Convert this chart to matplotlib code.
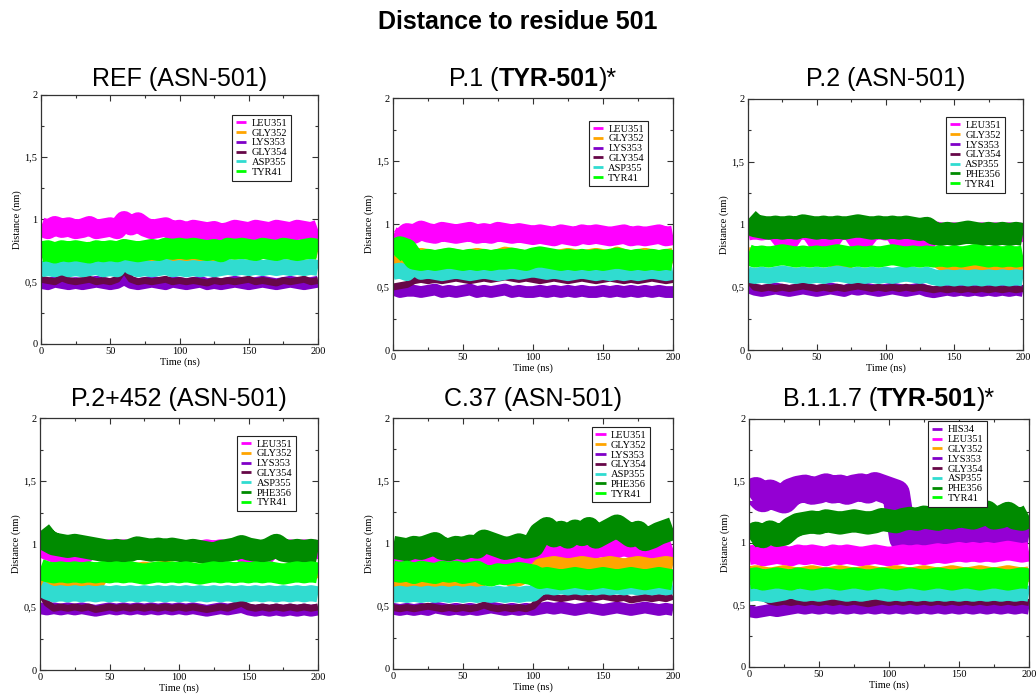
import matplotlib
matplotlib.use("Agg")
import matplotlib.pyplot as plt
from matplotlib.ticker import MultipleLocator

plt.rcParams["font.family"] = ["Liberation Serif", "DejaVu Serif"]

# sampling of the traces (ns)
time_ns = list(range(0, 201, 5))

x_ticks = [0, 50, 100, 150, 200]
x_tick_labels = ["0", "50", "100", "150", "200"]
y_ticks = [0, 0.5, 1, 1.5, 2]
y_tick_labels = ["0", "0,5", "1", "1,5", "2"]

# ---- REF (ASN-501)
ref_leu351 = [0.94, 0.92, 0.95, 0.93, 0.94, 0.92, 0.93, 0.95, 0.92, 0.93,
              0.94, 0.92, 0.99, 0.95, 0.98, 0.94, 0.92, 0.93, 0.94, 0.91,
              0.92, 0.90, 0.92, 0.91, 0.90, 0.91, 0.89, 0.90, 0.92, 0.91,
              0.90, 0.92, 0.91, 0.90, 0.92, 0.91, 0.90, 0.92, 0.91, 0.90,
              0.92]
ref_gly352 = [0.76, 0.75, 0.76, 0.75, 0.76, 0.74, 0.75, 0.76, 0.75, 0.74,
              0.75, 0.76, 0.78, 0.76, 0.75, 0.74, 0.70, 0.71, 0.69, 0.70,
              0.68, 0.69, 0.68, 0.70, 0.69, 0.68, 0.70, 0.74, 0.75, 0.76,
              0.75, 0.76, 0.75, 0.76, 0.75, 0.76, 0.75, 0.76, 0.75, 0.76,
              0.75]
ref_lys353 = [0.49, 0.48, 0.50, 0.49, 0.48, 0.49, 0.48, 0.49, 0.50, 0.49,
              0.48, 0.49, 0.52, 0.49, 0.48, 0.49, 0.50, 0.49, 0.48, 0.50,
              0.49, 0.48, 0.49, 0.50, 0.48, 0.49, 0.48, 0.49, 0.50, 0.49,
              0.48, 0.49, 0.50, 0.49, 0.48, 0.49, 0.50, 0.49, 0.48, 0.49,
              0.50]
ref_gly354 = [0.52, 0.51, 0.50, 0.53, 0.51, 0.50, 0.51, 0.52, 0.50, 0.51,
              0.50, 0.52, 0.60, 0.52, 0.50, 0.51, 0.50, 0.51, 0.52, 0.50,
              0.51, 0.50, 0.51, 0.50, 0.49, 0.51, 0.50, 0.51, 0.50, 0.51,
              0.52, 0.50, 0.51, 0.50, 0.49, 0.51, 0.50, 0.51, 0.52, 0.50,
              0.51]
ref_asp355 = [0.60, 0.61, 0.60, 0.62, 0.60, 0.61, 0.60, 0.61, 0.62, 0.60,
              0.61, 0.60, 0.68, 0.62, 0.60, 0.61, 0.60, 0.61, 0.62, 0.60,
              0.61, 0.60, 0.61, 0.60, 0.61, 0.60, 0.61, 0.62, 0.61, 0.62,
              0.61, 0.62, 0.61, 0.62, 0.61, 0.62, 0.61, 0.62, 0.61, 0.62,
              0.61]
ref_tyr41 = [0.74, 0.75, 0.73, 0.75, 0.74, 0.75, 0.74, 0.73, 0.75, 0.74,
             0.75, 0.74, 0.76, 0.75, 0.74, 0.75, 0.76, 0.75, 0.77, 0.76,
             0.77, 0.76, 0.77, 0.76, 0.75, 0.76, 0.74, 0.77, 0.76, 0.77,
             0.76, 0.75, 0.77, 0.76, 0.75, 0.77, 0.76, 0.75, 0.76, 0.77,
             0.76]

# ---- P.1 (TYR-501)
p1_leu351 = [0.90, 0.88, 0.93, 0.92, 0.95, 0.93, 0.92, 0.94, 0.93, 0.92,
             0.93, 0.94, 0.92, 0.93, 0.92, 0.94, 0.93, 0.92, 0.93, 0.92,
             0.91, 0.92, 0.91, 0.90, 0.92, 0.91, 0.90, 0.92, 0.91, 0.92,
             0.91, 0.90, 0.91, 0.92, 0.90, 0.91, 0.90, 0.91, 0.92, 0.90,
             0.91]
p1_gly352 = [0.72, 0.70, 0.71, 0.74, 0.75, 0.74, 0.73, 0.74, 0.75, 0.74,
             0.73, 0.74, 0.75, 0.74, 0.73, 0.74, 0.76, 0.75, 0.74, 0.73,
             0.74, 0.75, 0.74, 0.73, 0.74, 0.75, 0.74, 0.73, 0.74, 0.75,
             0.74, 0.73, 0.76, 0.74, 0.73, 0.74, 0.75, 0.74, 0.73, 0.74,
             0.75]
p1_lys353 = [0.48, 0.46, 0.47, 0.47, 0.46, 0.47, 0.48, 0.46, 0.47, 0.46,
             0.47, 0.48, 0.46, 0.47, 0.46, 0.47, 0.48, 0.46, 0.47, 0.46,
             0.46, 0.47, 0.46, 0.47, 0.46, 0.47, 0.46, 0.47, 0.46, 0.46,
             0.47, 0.46, 0.47, 0.46, 0.47, 0.46, 0.47, 0.46, 0.47, 0.46,
             0.46]
p1_gly354 = [0.50, 0.51, 0.52, 0.55, 0.56, 0.55, 0.56, 0.55, 0.56, 0.57,
             0.56, 0.55, 0.56, 0.57, 0.56, 0.57, 0.58, 0.57, 0.56, 0.57,
             0.56, 0.55, 0.56, 0.57, 0.56, 0.55, 0.56, 0.57, 0.56, 0.55,
             0.56, 0.57, 0.56, 0.55, 0.56, 0.55, 0.56, 0.57, 0.56, 0.55,
             0.56]
p1_asp355 = [0.62, 0.63, 0.61, 0.66, 0.62, 0.63, 0.62, 0.61, 0.62, 0.63,
             0.62, 0.61, 0.62, 0.63, 0.62, 0.61, 0.62, 0.63, 0.62, 0.63,
             0.64, 0.63, 0.62, 0.63, 0.62, 0.61, 0.62, 0.63, 0.62, 0.61,
             0.62, 0.61, 0.62, 0.61, 0.62, 0.61, 0.62, 0.63, 0.62, 0.61,
             0.62]
p1_tyr41 = [0.76, 0.82, 0.80, 0.72, 0.71, 0.72, 0.71, 0.72, 0.73, 0.72,
            0.71, 0.72, 0.71, 0.72, 0.71, 0.72, 0.72, 0.73, 0.72, 0.71,
            0.73, 0.74, 0.73, 0.72, 0.71, 0.72, 0.71, 0.72, 0.71, 0.72,
            0.71, 0.72, 0.73, 0.72, 0.71, 0.72, 0.71, 0.72, 0.71, 0.72,
            0.71]

# ---- P.2 (ASN-501)
p2_leu351 = [0.95, 0.96, 0.95, 0.96, 0.95, 0.88, 0.87, 0.95, 0.96, 0.95,
             0.87, 0.88, 0.87, 0.95, 0.96, 0.95, 0.87, 0.88, 0.95, 0.96,
             0.95, 0.96, 0.87, 0.88, 0.87, 0.88, 0.87, 0.95, 0.94, 0.93,
             0.94, 0.93, 0.94, 0.93, 0.94, 0.93, 0.94, 0.93, 0.94, 0.93,
             0.94]
p2_gly352 = [0.76, 0.75, 0.76, 0.75, 0.76, 0.75, 0.76, 0.75, 0.76, 0.75,
             0.76, 0.75, 0.76, 0.68, 0.67, 0.75, 0.76, 0.75, 0.76, 0.75,
             0.76, 0.75, 0.76, 0.75, 0.76, 0.75, 0.76, 0.74, 0.70, 0.67,
             0.66, 0.67, 0.66, 0.67, 0.66, 0.67, 0.66, 0.67, 0.66, 0.67,
             0.66]
p2_lys353 = [0.50, 0.48, 0.47, 0.48, 0.49, 0.48, 0.47, 0.48, 0.49, 0.48,
             0.47, 0.48, 0.49, 0.48, 0.47, 0.49, 0.48, 0.49, 0.48, 0.47,
             0.48, 0.49, 0.48, 0.47, 0.48, 0.49, 0.47, 0.46, 0.47, 0.48,
             0.47, 0.48, 0.47, 0.48, 0.47, 0.48, 0.47, 0.48, 0.47, 0.48,
             0.47]
p2_gly354 = [0.56, 0.50, 0.49, 0.50, 0.49, 0.50, 0.49, 0.50, 0.51, 0.50,
             0.49, 0.50, 0.49, 0.50, 0.49, 0.50, 0.51, 0.50, 0.49, 0.50,
             0.49, 0.50, 0.49, 0.50, 0.49, 0.50, 0.49, 0.48, 0.49, 0.48,
             0.49, 0.48, 0.49, 0.48, 0.49, 0.48, 0.49, 0.48, 0.49, 0.48,
             0.49]
p2_asp355 = [0.60, 0.59, 0.60, 0.59, 0.60, 0.61, 0.60, 0.59, 0.60, 0.59,
             0.60, 0.59, 0.60, 0.61, 0.60, 0.59, 0.60, 0.59, 0.60, 0.59,
             0.60, 0.59, 0.60, 0.61, 0.60, 0.59, 0.60, 0.58, 0.57, 0.58,
             0.57, 0.58, 0.57, 0.58, 0.57, 0.58, 0.57, 0.58, 0.57, 0.58,
             0.57]
p2_phe356 = [1.04, 0.99, 0.98, 0.97, 0.98, 0.97, 0.98, 0.97, 0.99, 0.98,
             0.97, 0.98, 0.97, 0.98, 0.97, 0.98, 0.99, 0.98, 0.97, 0.98,
             0.97, 0.98, 0.97, 0.98, 0.97, 0.96, 0.97, 0.93, 0.92, 0.93,
             0.92, 0.93, 0.94, 0.93, 0.92, 0.93, 0.92, 0.93, 0.92, 0.93,
             0.92]
p2_tyr41 = [0.76, 0.74, 0.75, 0.74, 0.75, 0.76, 0.75, 0.74, 0.75, 0.74,
            0.75, 0.74, 0.75, 0.76, 0.75, 0.74, 0.75, 0.74, 0.75, 0.74,
            0.75, 0.76, 0.75, 0.74, 0.75, 0.74, 0.75, 0.74, 0.75, 0.74,
            0.75, 0.74, 0.75, 0.76, 0.75, 0.74, 0.75, 0.74, 0.75, 0.74,
            0.75]

# ---- P.2+452 (ASN-501)
p452_leu351 = [1.00, 0.95, 0.93, 0.92, 0.91, 0.91, 0.90, 0.95, 0.96, 0.95,
               0.96, 0.95, 0.96, 0.95, 0.96, 0.95, 0.96, 0.95, 0.96, 0.95,
               0.96, 0.95, 0.96, 0.95, 0.96, 0.95, 0.96, 0.95, 0.96, 0.95,
               0.88, 0.87, 0.88, 0.95, 0.96, 0.95, 0.96, 0.95, 0.96, 0.95,
               0.96]
p452_gly352 = [0.70, 0.69, 0.70, 0.69, 0.70, 0.69, 0.68, 0.67, 0.68, 0.76,
               0.77, 0.78, 0.79, 0.80, 0.79, 0.80, 0.79, 0.80, 0.81, 0.80,
               0.79, 0.80, 0.79, 0.78, 0.79, 0.80, 0.79, 0.78, 0.79, 0.78,
               0.79, 0.80, 0.79, 0.78, 0.79, 0.78, 0.79, 0.80, 0.79, 0.78,
               0.79]
p452_lys353 = [0.49, 0.48, 0.49, 0.48, 0.49, 0.48, 0.49, 0.48, 0.47, 0.48,
               0.49, 0.48, 0.49, 0.48, 0.49, 0.48, 0.49, 0.48, 0.49, 0.48,
               0.49, 0.48, 0.49, 0.48, 0.47, 0.48, 0.49, 0.48, 0.49, 0.50,
               0.48, 0.47, 0.48, 0.47, 0.48, 0.47, 0.48, 0.47, 0.48, 0.47,
               0.48]
p452_gly354 = [0.62, 0.53, 0.49, 0.50, 0.49, 0.50, 0.49, 0.50, 0.48, 0.49,
               0.50, 0.49, 0.50, 0.49, 0.50, 0.49, 0.50, 0.49, 0.50, 0.49,
               0.50, 0.49, 0.50, 0.49, 0.48, 0.49, 0.50, 0.49, 0.51, 0.53,
               0.50, 0.49, 0.50, 0.49, 0.50, 0.49, 0.50, 0.49, 0.50, 0.49,
               0.50]
p452_asp355 = [0.65, 0.62, 0.60, 0.61, 0.60, 0.61, 0.60, 0.61, 0.60, 0.61,
               0.60, 0.61, 0.60, 0.61, 0.60, 0.61, 0.60, 0.61, 0.60, 0.61,
               0.60, 0.61, 0.60, 0.61, 0.60, 0.61, 0.60, 0.61, 0.60, 0.61,
               0.60, 0.61, 0.60, 0.61, 0.60, 0.61, 0.60, 0.61, 0.60, 0.61,
               0.60]
p452_phe356 = [1.10, 1.03, 1.00, 0.99, 0.98, 0.99, 0.98, 0.97, 0.96, 0.95,
               0.94, 0.95, 0.94, 0.95, 0.97, 0.96, 0.95, 0.96, 0.95, 0.96,
               0.95, 0.94, 0.95, 0.94, 0.93, 0.92, 0.94, 0.95, 0.96, 0.98,
               0.96, 0.95, 0.94, 0.96, 0.99, 0.95, 0.94, 0.95, 0.94, 0.95,
               0.94]
p452_tyr41 = [0.80, 0.78, 0.77, 0.78, 0.77, 0.78, 0.77, 0.78, 0.77, 0.78,
              0.77, 0.78, 0.77, 0.78, 0.77, 0.76, 0.77, 0.78, 0.77, 0.78,
              0.77, 0.78, 0.77, 0.76, 0.77, 0.78, 0.77, 0.78, 0.77, 0.78,
              0.77, 0.78, 0.77, 0.78, 0.77, 0.76, 0.77, 0.78, 0.77, 0.78,
              0.77]

# ---- C.37 (ASN-501)
c37_leu351 = [0.87, 0.88, 0.87, 0.88, 0.87, 0.88, 0.87, 0.88, 0.87, 0.88,
              0.87, 0.88, 0.87, 0.88, 0.87, 0.88, 0.87, 0.88, 0.87, 0.88,
              0.88, 0.90, 0.95, 0.96, 0.94, 0.95, 0.96, 0.95, 0.94, 0.96,
              0.97, 0.95, 0.96, 0.98, 0.96, 0.95, 0.94, 0.95, 0.93, 0.94,
              0.96]
c37_gly352 = [0.68, 0.67, 0.68, 0.67, 0.68, 0.67, 0.68, 0.67, 0.68, 0.67,
              0.68, 0.67, 0.68, 0.75, 0.76, 0.75, 0.76, 0.71, 0.72, 0.75,
              0.76, 0.82, 0.83, 0.84, 0.83, 0.82, 0.83, 0.84, 0.83, 0.82,
              0.83, 0.84, 0.83, 0.82, 0.83, 0.84, 0.83, 0.82, 0.83, 0.84,
              0.83]
c37_lys353 = [0.48, 0.47, 0.48, 0.47, 0.48, 0.47, 0.49, 0.48, 0.47, 0.48,
              0.47, 0.48, 0.47, 0.48, 0.49, 0.48, 0.47, 0.48, 0.47, 0.48,
              0.47, 0.48, 0.49, 0.48, 0.49, 0.48, 0.47, 0.48, 0.49, 0.48,
              0.47, 0.48, 0.49, 0.48, 0.47, 0.48, 0.49, 0.48, 0.47, 0.48,
              0.47]
c37_gly354 = [0.49, 0.48, 0.49, 0.48, 0.49, 0.50, 0.49, 0.48, 0.49, 0.48,
              0.49, 0.48, 0.49, 0.51, 0.49, 0.48, 0.49, 0.48, 0.49, 0.48,
              0.50, 0.56, 0.58, 0.57, 0.56, 0.57, 0.58, 0.57, 0.56, 0.57,
              0.58, 0.57, 0.56, 0.57, 0.55, 0.56, 0.57, 0.56, 0.57, 0.56,
              0.58]
c37_asp355 = [0.59, 0.60, 0.59, 0.60, 0.59, 0.60, 0.59, 0.60, 0.59, 0.60,
              0.59, 0.60, 0.59, 0.60, 0.59, 0.60, 0.59, 0.60, 0.59, 0.60,
              0.60, 0.65, 0.66, 0.65, 0.66, 0.65, 0.66, 0.65, 0.66, 0.65,
              0.66, 0.65, 0.66, 0.65, 0.66, 0.65, 0.66, 0.65, 0.66, 0.65,
              0.66]
c37_phe356 = [0.97, 0.96, 0.95, 0.97, 0.96, 0.98, 1.00, 0.96, 0.95, 0.97,
              0.96, 0.98, 0.97, 1.02, 1.00, 0.98, 0.96, 0.97, 0.99, 0.97,
              0.98, 1.08, 1.12, 1.06, 1.09, 1.05, 1.10, 1.07, 1.12, 1.05,
              1.08, 1.11, 1.14, 1.10, 1.06, 1.09, 1.03, 1.05, 1.08, 1.10,
              1.12]
c37_tyr41 = [0.78, 0.77, 0.78, 0.76, 0.78, 0.77, 0.76, 0.78, 0.77, 0.78,
             0.76, 0.77, 0.78, 0.75, 0.74, 0.76, 0.75, 0.76, 0.77, 0.76,
             0.75, 0.72, 0.73, 0.72, 0.71, 0.72, 0.73, 0.72, 0.71, 0.72,
             0.73, 0.72, 0.71, 0.72, 0.73, 0.72, 0.71, 0.72, 0.73, 0.72,
             0.71]

# ---- B.1.1.7 (TYR-501)
b117_his34 = [1.38, 1.42, 1.36, 1.40, 1.37, 1.35, 1.41, 1.43, 1.44, 1.42,
              1.43, 1.45, 1.43, 1.44, 1.42, 1.44, 1.45, 1.43, 1.46, 1.44,
              1.42, 1.40, 1.04, 1.03, 1.04, 1.02, 1.03, 1.04, 1.03, 1.04,
              1.05, 1.04, 1.03, 1.04, 1.05, 1.04, 1.05, 1.06, 1.05, 1.06,
              1.05]
b117_leu351 = [0.90, 0.91, 0.89, 0.90, 0.91, 0.90, 0.89, 0.91, 0.90, 0.91,
               0.90, 0.89, 0.91, 0.90, 0.91, 0.90, 0.89, 0.90, 0.91, 0.90,
               0.89, 0.90, 0.91, 0.90, 0.91, 0.90, 0.91, 0.92, 0.91, 0.92,
               0.93, 0.92, 0.93, 0.92, 0.93, 0.92, 0.93, 0.94, 0.93, 0.92,
               0.93]
b117_gly352 = [0.75, 0.76, 0.75, 0.74, 0.75, 0.76, 0.75, 0.74, 0.75, 0.76,
               0.75, 0.74, 0.75, 0.76, 0.75, 0.74, 0.75, 0.76, 0.75, 0.74,
               0.75, 0.76, 0.75, 0.74, 0.75, 0.76, 0.75, 0.74, 0.75, 0.76,
               0.75, 0.74, 0.75, 0.76, 0.75, 0.74, 0.75, 0.76, 0.75, 0.74,
               0.75]
b117_lys353 = [0.45, 0.44, 0.45, 0.46, 0.45, 0.46, 0.47, 0.48, 0.47, 0.48,
               0.47, 0.48, 0.47, 0.48, 0.47, 0.48, 0.47, 0.48, 0.47, 0.48,
               0.47, 0.48, 0.47, 0.48, 0.47, 0.48, 0.47, 0.48, 0.47, 0.48,
               0.47, 0.48, 0.47, 0.48, 0.47, 0.48, 0.47, 0.48, 0.47, 0.48,
               0.47]
b117_gly354 = [0.57, 0.58, 0.56, 0.53, 0.52, 0.53, 0.52, 0.53, 0.52, 0.53,
               0.52, 0.53, 0.52, 0.53, 0.52, 0.53, 0.52, 0.51, 0.52, 0.53,
               0.52, 0.53, 0.52, 0.53, 0.52, 0.53, 0.52, 0.53, 0.52, 0.53,
               0.52, 0.53, 0.52, 0.53, 0.52, 0.53, 0.52, 0.53, 0.52, 0.53,
               0.52]
b117_asp355 = [0.59, 0.60, 0.59, 0.58, 0.59, 0.60, 0.62, 0.60, 0.59, 0.60,
               0.59, 0.60, 0.61, 0.60, 0.59, 0.60, 0.59, 0.60, 0.61, 0.60,
               0.59, 0.60, 0.59, 0.60, 0.59, 0.60, 0.59, 0.60, 0.59, 0.60,
               0.59, 0.60, 0.59, 0.60, 0.59, 0.60, 0.59, 0.60, 0.59, 0.60,
               0.59]
b117_phe356 = [1.04, 1.08, 1.05, 1.09, 1.06, 1.07, 1.12, 1.15, 1.16, 1.17,
               1.16, 1.18, 1.17, 1.16, 1.17, 1.18, 1.17, 1.16, 1.17, 1.19,
               1.18, 1.17, 1.19, 1.20, 1.19, 1.21, 1.20, 1.19, 1.21, 1.20,
               1.22, 1.21, 1.20, 1.22, 1.25, 1.20, 1.21, 1.24, 1.20, 1.19,
               1.22]
b117_tyr41 = [0.71, 0.72, 0.70, 0.71, 0.72, 0.71, 0.70, 0.72, 0.71, 0.70,
              0.71, 0.72, 0.71, 0.70, 0.71, 0.72, 0.71, 0.70, 0.71, 0.72,
              0.71, 0.70, 0.71, 0.72, 0.71, 0.70, 0.71, 0.72, 0.71, 0.70,
              0.71, 0.72, 0.71, 0.70, 0.71, 0.72, 0.71, 0.70, 0.71, 0.72,
              0.71]

# colours (xmgrace-like) and band thickness in points
colors = {"HIS34": "#9400d3", "LEU351": "#ff00ff", "GLY352": "#ffa500",
          "LYS353": "#8000c8", "GLY354": "#670748", "ASP355": "#30dcd0",
          "PHE356": "#008b00", "TYR41": "#00ff00"}
band_lw = {"HIS34": 20, "LEU351": 14, "GLY352": 11, "LYS353": 8.5,
           "GLY354": 5, "ASP355": 11.5, "PHE356": 16.5, "TYR41": 15}

panels = [
    {"title": [("REF (ASN-501)", "normal")], "box": (41, 95, 318, 344), "row": 0,
     "legend": (0.69, 0.92),
     "series": [("LEU351", ref_leu351), ("GLY352", ref_gly352), ("LYS353", ref_lys353),
                ("GLY354", ref_gly354), ("ASP355", ref_asp355), ("TYR41", ref_tyr41)]},
    {"title": [("P.1 (", "normal"), ("TYR-501", "bold"), (")*", "normal")],
     "box": (393, 98, 673, 350), "row": 0, "legend": (0.70, 0.91),
     "series": [("LEU351", p1_leu351), ("GLY352", p1_gly352), ("LYS353", p1_lys353),
                ("GLY354", p1_gly354), ("ASP355", p1_asp355), ("TYR41", p1_tyr41)]},
    {"title": [("P.2 (ASN-501)", "normal")], "box": (748, 99, 1023, 350), "row": 0,
     "legend": (0.72, 0.928),
     "series": [("LEU351", p2_leu351), ("GLY352", p2_gly352), ("LYS353", p2_lys353),
                ("GLY354", p2_gly354), ("ASP355", p2_asp355), ("PHE356", p2_phe356),
                ("TYR41", p2_tyr41)]},
    {"title": [("P.2+452 (ASN-501)", "normal")], "box": (40, 418, 318, 670), "row": 1,
     "legend": (0.71, 0.93),
     "series": [("LEU351", p452_leu351), ("GLY352", p452_gly352), ("LYS353", p452_lys353),
                ("GLY354", p452_gly354), ("ASP355", p452_asp355), ("PHE356", p452_phe356),
                ("TYR41", p452_tyr41)]},
    {"title": [("C.37 (ASN-501)", "normal")], "box": (393, 418, 673, 669), "row": 1,
     "legend": (0.71, 0.964),
     "series": [("LEU351", c37_leu351), ("GLY352", c37_gly352), ("LYS353", c37_lys353),
                ("GLY354", c37_gly354), ("ASP355", c37_asp355), ("PHE356", c37_phe356),
                ("TYR41", c37_tyr41)]},
    {"title": [("B.1.1.7 (", "normal"), ("TYR-501", "bold"), (")*", "normal")],
     "box": (749, 419, 1029, 667), "row": 1, "legend": (0.64, 0.99),
     "series": [("HIS34", b117_his34), ("LEU351", b117_leu351), ("GLY352", b117_gly352),
                ("LYS353", b117_lys353), ("GLY354", b117_gly354), ("ASP355", b117_asp355),
                ("PHE356", b117_phe356), ("TYR41", b117_tyr41)]},
]

W, H = 1036, 696
fig = plt.figure(figsize=(W / 100, H / 100), dpi=100)
renderer = fig.canvas.get_renderer()
title_base = [86, 406]  # baseline of panel titles (px from top)


def put_title(ax, parts, base_px):
    bb = ax.get_position()
    cx = (bb.x0 + bb.x1) / 2 * W
    items = [fig.text(0, 1 - base_px / H, s, fontsize=18, fontweight=w,
                      family="Liberation Sans", va="baseline") for s, w in parts]
    widths = [t.get_window_extent(renderer).width for t in items]
    x = cx - sum(widths) / 2
    for t, w in zip(items, widths):
        t.set_x(x / W)
        x += w


for p in panels:
    x0, y0, x1, y1 = p["box"]
    ax = fig.add_axes([x0 / W, 1 - y1 / H, (x1 - x0) / W, (y1 - y0) / H])
    for name, vals in p["series"]:
        ax.plot(time_ns, vals, color=colors[name], lw=band_lw[name], label=name,
                solid_joinstyle="round", solid_capstyle="butt")
    ax.set_xlim(0, 200)
    ax.set_ylim(0, 2)
    ax.set_xticks(x_ticks)
    ax.set_xticklabels(x_tick_labels)
    ax.set_yticks(y_ticks)
    ax.set_yticklabels(y_tick_labels)
    ax.xaxis.set_minor_locator(MultipleLocator(25))
    ax.yaxis.set_minor_locator(MultipleLocator(0.25))
    ax.tick_params(which="both", direction="in", top=True, right=True,
                   labelsize=7.5, pad=2.5, width=0.8, color="#333333")
    ax.tick_params(which="major", length=4)
    ax.tick_params(which="minor", length=2)
    for s in ax.spines.values():
        s.set_color("#333333")
        s.set_linewidth(0.9)
    ax.set_xlabel("Time (ns)", fontsize=7.5, labelpad=1)
    ax.set_ylabel("Distance (nm)", fontsize=7.5, labelpad=2)

    leg = ax.legend(loc="upper left", bbox_to_anchor=p["legend"], fontsize=7.5,
                    handlelength=1.0, handletextpad=0.5, labelspacing=0.05,
                    borderpad=0.35, borderaxespad=0, fancybox=False,
                    framealpha=1, edgecolor="#222222")
    leg.get_frame().set_linewidth(0.8)
    for h in leg.get_lines():
        h.set_linewidth(2)

    put_title(ax, p["title"], title_base[p["row"]])

fig.text(0.5, 1 - 22 / H, "Distance to residue 501", ha="center", va="center",
         fontsize=18, fontweight="bold", family="Liberation Sans")

fig.savefig("out.png", dpi=100)
